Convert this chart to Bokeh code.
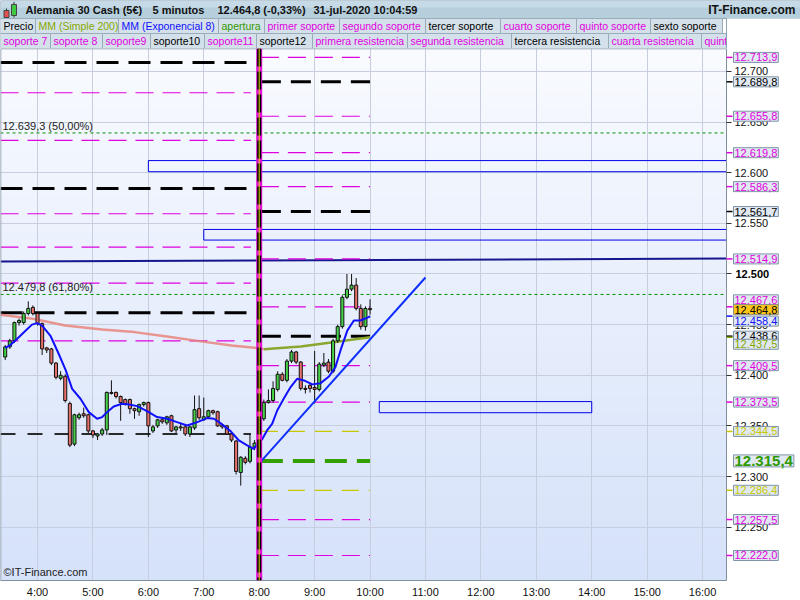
import numpy as np
from bokeh.plotting import figure
from bokeh.models import Range1d, FixedTicker, Label, Span
from bokeh.layouts import column
from bokeh.embed import file_html
from bokeh.resources import INLINE
from bokeh.core.properties import value

FONT = "Liberation Sans"

# ---------------- data ----------------
first_bar = "03:25"          # 5-minute bars
opens = [12418, 12428, 12434, 12452, 12452, 12461, 12467, 12461, 12451, 12427,
         12426, 12412, 12397, 12399, 12372, 12332, 12358, 12362, 12361, 12345,
         12340, 12342, 12346, 12383, 12383, 12379, 12376, 12376, 12367, 12364,
         12371, 12373, 12345, 12350, 12356, 12353, 12360, 12346, 12349, 12349,
         12342, 12348, 12367, 12356, 12359, 12365, 12364, 12351, 12350, 12342,
         12335, 12304, 12318, 12315, 12329, 12315, 12357, 12373, 12375, 12386,
         12401, 12395, 12414, 12423, 12413, 12387, 12390, 12388, 12386, 12410,
         12413, 12404, 12434, 12448, 12477, 12485, 12489, 12466, 12448, 12466]
highs = [12430, 12436, 12453, 12456, 12463, 12473, 12469, 12462, 12452, 12428,
         12427, 12413, 12404, 12401, 12374, 12362, 12363, 12368, 12362, 12346,
         12343, 12348, 12384, 12395, 12384, 12380, 12377, 12377, 12368, 12372,
         12374, 12374, 12351, 12357, 12358, 12360, 12361, 12350, 12352, 12351,
         12350, 12380, 12380, 12378, 12366, 12366, 12365, 12352, 12351, 12343,
         12336, 12320, 12320, 12342, 12336, 12360, 12376, 12386, 12394, 12404,
         12403, 12416, 12425, 12424, 12414, 12390, 12392, 12424, 12413, 12422,
         12416, 12436, 12450, 12479, 12500, 12500, 12496, 12470, 12468, 12475]
lows = [12415, 12426, 12432, 12449, 12450, 12459, 12459, 12449, 12420, 12422,
        12410, 12396, 12395, 12373, 12329, 12330, 12356, 12358, 12343, 12338,
        12336, 12340, 12341, 12381, 12377, 12355, 12370, 12362, 12357, 12360,
        12369, 12339, 12343, 12348, 12352, 12351, 12344, 12343, 12345, 12340,
        12339, 12346, 12356, 12355, 12357, 12361, 12349, 12347, 12341, 12334,
        12302, 12291, 12312, 12313, 12326, 12311, 12355, 12372, 12373, 12384,
        12394, 12393, 12412, 12411, 12385, 12382, 12383, 12372, 12384, 12408,
        12402, 12402, 12432, 12446, 12475, 12483, 12464, 12445, 12444, 12460]
closes = [12428, 12434, 12452, 12454, 12461, 12466, 12461, 12451, 12426, 12425,
          12412, 12398, 12400, 12375, 12331, 12361, 12361, 12360, 12345, 12341,
          12342, 12346, 12383, 12382, 12379, 12373, 12372, 12367, 12365, 12371,
          12373, 12350, 12349, 12356, 12354, 12359, 12345, 12349, 12348, 12342,
          12349, 12366, 12358, 12359, 12365, 12363, 12350, 12349, 12342, 12336,
          12305, 12319, 12314, 12329, 12333, 12357, 12373, 12375, 12387, 12401,
          12395, 12414, 12423, 12413, 12387, 12386, 12387, 12386, 12411, 12412,
          12404, 12434, 12448, 12477, 12485, 12489, 12466, 12448, 12466, 12464.8]

# MM (Exponencial 8): bar position -> value
ema_idx = [0, 1, 2.6, 4.4, 5.8, 6.9, 8.0, 9.8, 11.6, 13.1,
           14.5, 16.3, 18.1, 19.9, 21.0, 22.1, 23.5, 25.3, 26.8, 28.6,
           30.7, 32.9, 35.1, 37.2, 39.4, 41.6, 43.7, 45.2, 46.6, 48.8,
           50.6, 52.4, 53.8, 55.7, 56.7, 57.8, 58.9, 60.3, 61.8, 63.2,
           64.7, 66.5, 68.3, 70.1, 71.5, 72.6, 74.1, 75.5, 76.9, 78.7, 79]
ema_val = [12427, 12429.4, 12436, 12444, 12450, 12451.5, 12449, 12439, 12421, 12405,
           12386.6, 12376.8, 12363.6, 12357, 12358.7, 12363.6, 12369.2, 12371.8, 12371.2, 12369.5,
           12364.6, 12358.7, 12357, 12353.7, 12350.4, 12353.7, 12357.7, 12357, 12352.7, 12344.8,
           12335.6, 12330.7, 12327.4, 12337.3, 12345.5, 12352, 12365.2, 12376.8, 12388.3, 12396.5,
           12394.9, 12391, 12392.2, 12398.8, 12408, 12424.5, 12444.3, 12454.1, 12454.1, 12457.4, 12458.4]

# MM (Simple 200)
sma_pre_t = ["03:20", "03:55", "04:30", "05:10", "05:45", "06:20", "06:55", "07:30", "07:55", "08:05"]
sma_pre_v = [12459.7, 12455.8, 12449.2, 12445.2, 12442.6, 12438.3, 12433.7, 12429.4, 12427.1, 12425.8]
sma_post_t = ["08:05", "08:45", "09:20", "10:00"]
sma_post_v = [12425.8, 12428.4, 12432.7, 12437.5]

# previous session levels (left of the open)
prev_black = [12708.9, 12584.4, 12461.7]
prev_black_thin = [12342.0]
prev_magenta = [12679.0, 12632.0, 12559.5, 12526.5, 12491.0, 12434.0]

# today's levels (right of the open)
today_magenta = [12713.9, 12655.8, 12619.8, 12586.3, 12514.9, 12467.6, 12409.5, 12373.5, 12257.5, 12222.0]
today_black = [12689.8, 12561.7, 12438.6]
today_yellow = [12344.5, 12286.4]
apertura = 12315.4
open_time = "08:00"
last_time = "10:00"
last_price = 12464.8
ema_last = 12458.4
sma_last = 12437.5

fib_levels = [12639.3, 12479.8]
fib_pcts = ["50,00%", "61,80%"]

navy_t = ["03:20", "16:26"]
navy_v = [12512.3, 12515.3]
trend_t = ["08:00", "11:00"]
trend_v = [12313.0, 12496.5]

zone_t0 = ["06:00", "07:00", "10:10"]
zone_t1 = ["16:26", "16:26", "14:00"]
zone_lo = [12601.0, 12533.5, 12363.0]
zone_hi = [12612.0, 12544.0, 12374.0]

hour_ticks = [4, 5, 6, 7, 8, 9, 10, 11, 12, 13, 14, 15, 16]
hour_labels = ["4:00", "5:00", "6:00", "7:00", "8:00", "9:00", "10:00", "11:00",
               "12:00", "13:00", "14:00", "15:00", "16:00"]
price_ticks = [12250, 12300, 12350, 12400, 12450, 12500, 12550, 12600, 12650, 12700]
price_labels = ["12.250", "12.300", "12.350", "12.400", "12.450", "12.500",
                "12.550", "12.600", "12.650", "12.700"]

title_items = ["Alemania 30 Cash (5€)", "5 minutos", "12.464,8 (-0,33%)", "31-jul-2020 10:04:59"]
legend1_names = ["Precio", "MM (Simple 200)", "MM (Exponencial 8)", "apertura", "primer soporte",
                 "segundo soporte", "tercer soporte", "cuarto soporte", "quinto soporte", "sexto soporte"]
legend2_names = ["soporte 7", "soporte 8", "soporte9", "soporte10", "soporte11", "soporte12",
                 "primera resistencia", "segunda resistencia", "tercera resistencia",
                 "cuarta resistencia", "quinta resistencia"]

# ---------------- styles ----------------
MAG = "#e000e0"
BLK = "#000000"
BLUE = "#1010ff"
OLIVE = "#86a800"
GREEN = "#339900"
YEL = "#c8c800"

legend1_colors = [BLK, OLIVE, BLUE, GREEN, MAG, MAG, BLK, MAG, MAG, BLK]
legend2_colors = [MAG, MAG, MAG, BLK, MAG, BLK, MAG, MAG, BLK, MAG, MAG]
legend1_edges = [0, 35, 118, 218, 264, 339, 425, 500, 576, 650, 722]
legend2_edges = [0, 50, 102, 150, 204, 256, 312, 407, 511, 608, 701, 800]
title_x = [25, 152, 217, 313]


def hrs(s):
    hh, mm = s.split(":")
    return int(hh) + int(mm) / 60.0


def es(v):
    s = f"{v:,.1f}"
    return s.replace(",", "X").replace(".", ",").replace("X", ".")


t0 = hrs(first_bar)
bar_t = [t0 + i * 5 / 60.0 for i in range(len(closes))]
ema_t = [t0 + i * 5 / 60.0 for i in ema_idx]

W, H_HEAD, H_MAIN = 800, 48, 552
PXH = 55.42                     # pixels per hour
X0 = 3.332                      # left edge of the chart
X1 = X0 + 726 / PXH             # price-axis line
XR = X0 + W / PXH               # right edge of the canvas
Y0, Y1 = 12197.3, 12722.7
PRE_END = 7.85
POST_START, POST_END = 8.03, hrs(last_time)

# ---------------- header ----------------
h = figure(width=W, height=H_HEAD, x_range=Range1d(0, 800), y_range=Range1d(48, 0),
           output_backend="svg", toolbar_location=None, min_border=0,
           x_axis_type=None, y_axis_type=None)
h.grid.visible = False
h.outline_line_color = None
h.background_fill_color = "white"
h.border_fill_color = "white"

h.quad(left=0, right=800, top=0, bottom=18, fill_color="#b6cfdd", line_color="#8ea4b4")
h.quad(left=0.5, right=799.5, top=0.5, bottom=7, fill_color="#c5dae6", line_color=None)
# icon
h.segment(x0=[6, 13.5], y0=[8, 1.5], x1=[6, 13.5], y1=[19, 17], line_color="#333333", line_width=1)
h.quad(left=[3.5, 11], right=[8.5, 16], top=[10, 4], bottom=[17, 15],
       fill_color=["#e05050", "#40c840"], line_color="#444444")
h.text(x=title_x, y=[9.5] * 4, text=title_items, text_font=value(FONT), text_font_style="bold",
       text_font_size="11px", text_color="#111111", text_baseline="middle")
h.text(x=[795], y=[9.5], text=["IT-Finance.com"], text_font=value(FONT), text_font_style="bold",
       text_font_size="12px", text_color="#111111", text_baseline="middle", text_align="right")

h.quad(left=legend1_edges[:-1], right=legend1_edges[1:], top=18, bottom=33,
       fill_color="#d5e1ea", line_color="#9aacba")
h.quad(left=legend2_edges[:-1], right=legend2_edges[1:], top=33, bottom=48,
       fill_color="#d5e1ea", line_color="#9aacba")
h.text(x=[e + 3 for e in legend1_edges[:-1]], y=[25.8] * len(legend1_names), text=legend1_names,
       text_color=legend1_colors, text_font=value(FONT), text_font_size="10.5px", text_baseline="middle")
h.text(x=[e + 3 for e in legend2_edges[:-1]], y=[40.8] * len(legend2_names), text=legend2_names,
       text_color=legend2_colors, text_font=value(FONT), text_font_size="10.5px", text_baseline="middle")
h.quad(left=726, right=800, top=18, bottom=48, fill_color="white", line_color=None)
h.segment(x0=[726], y0=[18], x1=[726], y1=[48], line_color="#8ea4b4")

# ---------------- main chart ----------------
p = figure(width=W, height=H_MAIN, x_range=Range1d(X0, XR), y_range=Range1d(Y0, Y1),
           y_axis_location="right", output_backend="svg", toolbar_location=None,
           min_border_left=0, min_border_right=0, min_border_top=0, min_border_bottom=20)
p.background_fill_color = "white"
p.border_fill_color = "white"
p.outline_line_color = None

# vertical gradient background of the chart area
N = 200
img = np.empty((N, 1), dtype=np.uint32)
view = img.view(dtype=np.uint8).reshape((N, 1, 4))
top_c = np.array([249, 251, 255])
bot_c = np.array([214, 226, 250])
for r in range(N):
    f = r / (N - 1)
    c = bot_c + (top_c - bot_c) * f
    view[r, 0, 0:3] = c.astype(np.uint8)
    view[r, 0, 3] = 255
p.image_rgba(image=[img], x=X0, y=Y0, dw=X1 - X0, dh=Y1 - Y0, level="image")

p.xaxis.ticker = FixedTicker(ticks=hour_ticks)
p.xaxis.major_label_overrides = dict(zip(hour_ticks, hour_labels))
p.xaxis.bounds = (X0, X1)
p.yaxis.ticker = FixedTicker(ticks=price_ticks)
ylab = dict(zip(price_ticks, price_labels))
ylab[12500] = " "
p.yaxis.major_label_overrides = ylab
p.yaxis.fixed_location = X1
for ax in (p.xaxis, p.yaxis):
    ax.major_label_text_font = FONT
    ax.major_label_text_font_size = "11px"
    ax.major_label_text_color = "#111111"
    ax.axis_line_color = "#7f8f9f"
    ax.minor_tick_line_color = None
    ax.major_tick_in = 0
p.xaxis.major_tick_out = 0
p.xaxis.major_label_standoff = 5
p.yaxis.major_tick_out = 5
p.yaxis.major_tick_line_color = "#333333"
p.yaxis.major_label_standoff = 3
p.grid.grid_line_color = "#c6cee0"
p.grid.grid_line_width = 1

# previous-session levels
for v in prev_magenta:
    p.line([X0, PRE_END], [v, v], line_color=MAG, line_width=1.2, line_dash="18 9")
for v in prev_black:
    p.line([X0, PRE_END], [v, v], line_color=BLK, line_width=3, line_dash="22 10")
for v in prev_black_thin:
    p.line([X0, PRE_END], [v, v], line_color="#2a2a2a", line_width=2, line_dash="15 12")

# full-width fibonacci levels
for v in fib_levels:
    p.line([X0, X1], [v, v], line_color="#009000", line_width=1, line_dash="3 3")
p.text(x=[X0] * len(fib_levels), y=fib_levels,
       text=[f"{es(v)} ({pct})" for v, pct in zip(fib_levels, fib_pcts)],
       x_offset=2, y_offset=-1, text_baseline="bottom", text_font=value(FONT),
       text_font_size="11px", text_color="#222222")

# zones
p.quad(left=[hrs(t) for t in zone_t0], right=[hrs(t) for t in zone_t1],
       bottom=zone_lo, top=zone_hi, fill_color=None, line_color="#0000e8", line_width=1)

# navy trend line
p.line([hrs(t) for t in navy_t], navy_v, line_color="#16168f", line_width=2)

# today's levels
for v in today_magenta:
    p.line([POST_START, POST_END], [v, v], line_color=MAG, line_width=1.2, line_dash="18 9")
for v in today_yellow:
    p.line([POST_START, POST_END], [v, v], line_color=YEL, line_width=1.3, line_dash="17 10")
for v in today_black:
    p.line([POST_START, POST_END], [v, v], line_color=BLK, line_width=3, line_dash="20 10")
p.line([POST_START, POST_END], [apertura, apertura], line_color="#33a000", line_width=4, line_dash="22 10")

# SMA 200
p.line([hrs(t) for t in sma_pre_t], sma_pre_v, line_color="#e8857c", line_width=2.5, line_alpha=0.85)
p.line([hrs(t) for t in sma_post_t], sma_post_v, line_color="#8aa830", line_width=2.5)

# candles
up = [c >= o for o, c in zip(opens, closes)]
body_top = [max(o, c) for o, c in zip(opens, closes)]
body_bot = [min(o, c) for o, c in zip(opens, closes)]
colors = ["#46d046" if u else "#e8706a" for u in up]
p.segment(x0=bar_t, y0=lows, x1=bar_t, y1=highs, line_color="#111111", line_width=1)
p.vbar(x=bar_t, top=body_top, bottom=body_bot, width=0.055, fill_color=colors, line_color="#111111",
       line_width=1)

# EMA 8
p.line(ema_t, ema_val, line_color=BLUE, line_width=2)

# trend line
p.line([hrs(t) for t in trend_t], trend_v, line_color="#1030ff", line_width=2)

# white price-scale area to the right of the chart
p.quad(left=X1, right=XR + 1, bottom=Y0 - 50, top=Y1 + 50, fill_color="white", line_color=None)

# chart frame lines
p.segment(x0=[X0, X0], y0=[Y0, Y1], x1=[X0, X1], y1=[Y1, Y1], line_color="#7f8f9f", line_width=1.5)

# opening vertical
ot = hrs(open_time)
p.add_layout(Span(location=ot, dimension="height", line_color="#e010d0", line_width=6))
p.add_layout(Span(location=ot, dimension="height", line_color="#000000", line_width=4, line_dash="18 5"))
p.add_layout(Span(location=ot, dimension="height", line_color="#dddd00", line_width=1))

# watermark
p.add_layout(Label(x=3, y=3, x_units="screen", y_units="screen", text="©IT-Finance.com",
                   text_font=FONT, text_font_size="11px", text_color="#222222"))

# bold 12.500 scale label
p.text(x=[X1], y=[12500], text=["12.500"], x_offset=9, text_font=value(FONT), text_font_size="11px",
       text_font_style="bold", text_baseline="middle", text_align="left", text_color="#000000",
       level="overlay")

# right side price tags
tag_vals = today_magenta + today_black + today_yellow + [ema_last, sma_last]
tag_cols = ([MAG] * len(today_magenta) + [BLK] * len(today_black) + [YEL] * len(today_yellow)
            + [BLUE, OLIVE])
shift = {12467.6: -7, 12458.4: 5, 12437.5: 7}
tag_dy = [shift.get(v, 0) for v in tag_vals]
p.segment(x0=[X1] * len(tag_vals), y0=tag_vals, x1=[X1 + 6 / PXH] * len(tag_vals), y1=tag_vals,
          line_color=tag_cols, line_width=1.5, level="overlay")
p.text(x=[X1] * len(tag_vals), y=tag_vals, text=[es(v) for v in tag_vals], x_offset=7, y_offset=tag_dy,
       text_color=tag_cols, text_font=value(FONT), text_font_size="11px", text_baseline="middle",
       text_align="left", background_fill_color="#e0e8f1", border_line_color="#7f93a6",
       padding=1, level="overlay")
p.text(x=[X1], y=[apertura], text=[es(apertura)], x_offset=7, text_color="#2f9a00",
       text_font=value(FONT), text_font_size="15px", text_font_style="bold", text_baseline="middle",
       text_align="left", background_fill_color="#e0e8f1", border_line_color="#7f93a6",
       padding=1, level="overlay")
p.text(x=[X1], y=[last_price], text=[es(last_price)], x_offset=7, text_color="#000000",
       text_font=value(FONT), text_font_size="11px", text_baseline="middle", text_align="left",
       background_fill_color="#ffc61a", border_line_color="#8a8a8a", padding=1, level="overlay")

layout = column(h, p)
open("out.html", "w").write(file_html(layout, INLINE))
